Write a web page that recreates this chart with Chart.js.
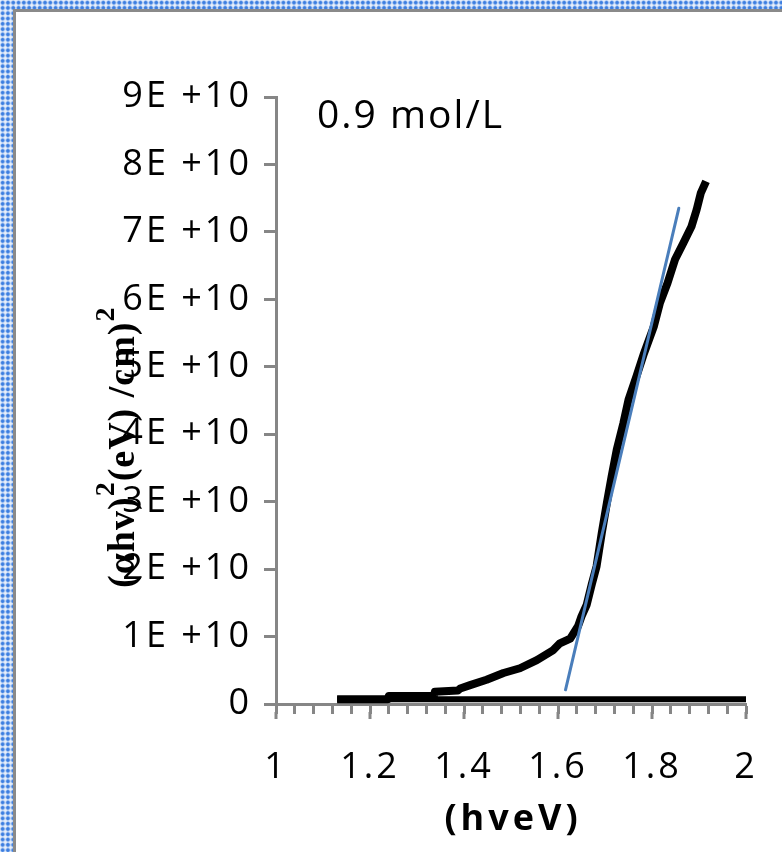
<!DOCTYPE html>
<html>
<head>
<meta charset="utf-8">
<title>Tauc plot 0.9 mol/L</title>
<script src="https://cdn.jsdelivr.net/npm/chart.js@4.4.0/dist/chart.umd.min.js"></script>
<style>
  html, body {
    margin: 0;
    width: 782px;
    height: 852px;
    overflow: hidden;
  }
  body {
    background-color: #e9f0fb;
    background-image: radial-gradient(circle, #3b7de0 0, #3b7de0 1.3px, #9dbff0 2px, transparent 2.7px);
    background-size: 5.3px 5.3px;
  }
  #frame {
    position: absolute;
    left: 13px;
    top: 9px;
    right: 0;
    bottom: 0;
    background: #fff;
    border-left: 3px solid #8a8a8a;
    border-top: 3px solid #8a8a8a;
  }
  #wrap {
    position: absolute;
    left: 0;
    top: 0;
    width: 782px;
    height: 852px;
  }
</style>
</head>
<body>
<div id="frame"></div>
<div id="wrap"><canvas id="tauc"></canvas></div>
<script>
// photon energy (eV) and (ahv)^2 values of the measured curve
const energy = [1.13, 1.238, 1.24, 1.336, 1.338, 1.387, 1.392, 1.413, 1.448, 1.484,
                1.519, 1.555, 1.59, 1.604, 1.626, 1.643, 1.65, 1.661, 1.672, 1.682,
                1.693, 1.704, 1.714, 1.725, 1.739, 1.75, 1.767, 1.783, 1.804, 1.817,
                1.833, 1.849, 1.867, 1.884, 1.895, 1.904, 1.915];
const absorption = [0.07e10, 0.07e10, 0.12e10, 0.12e10, 0.18e10, 0.20e10, 0.23e10, 0.28e10, 0.36e10, 0.46e10,
                    0.53e10, 0.65e10, 0.80e10, 0.90e10, 0.97e10, 1.16e10, 1.30e10, 1.47e10, 1.78e10, 2.04e10,
                    2.53e10, 2.98e10, 3.37e10, 3.77e10, 4.16e10, 4.51e10, 4.86e10, 5.20e10, 5.60e10, 5.95e10,
                    6.24e10, 6.59e10, 6.84e10, 7.08e10, 7.33e10, 7.58e10, 7.75e10];

// flat baseline under the curve
const baseX = [1.13, 2.0];
const baseY = [0.07e10, 0.07e10];

// linear fit used to read the band gap
const fitX = [1.616, 1.857];
const fitY = [0.21e10, 7.35e10];

const yTickLabels = ['0', '1E +10', '2E +10', '3E +10', '4E +10', '5E +10', '6E +10', '7E +10', '8E +10', '9E +10'];
const xTickLabels = ['1', '1.2', '1.4', '1.6', '1.8', '2'];
const xMajorValues = [1, 1.2, 1.4, 1.6, 1.8, 2];

const AXIS_GREY = '#868686';

function toPoints(xs, ys) {
  return xs.map((x, i) => ({ x: x, y: ys[i] }));
}

// wider spacing for the tick labels, longer marks at the labelled x ticks,
// plus the text that sits on the chart
const decorations = {
  id: 'decorations',
  beforeDraw(chart) {
    chart.ctx.letterSpacing = '3px';
  },
  afterDraw(chart) {
    const ctx = chart.ctx;
    const xs = chart.scales.x;
    const bottom = chart.chartArea.bottom;

    ctx.letterSpacing = '0px';
    ctx.save();
    ctx.strokeStyle = AXIS_GREY;
    ctx.lineWidth = 3;
    xMajorValues.forEach(v => {
      const px = Math.round(xs.getPixelForValue(v));
      ctx.beginPath();
      ctx.moveTo(px, bottom + 8);
      ctx.lineTo(px, bottom + 15);
      ctx.stroke();
    });

    ctx.fillStyle = '#000';
    ctx.textBaseline = 'alphabetic';

    // sample concentration
    ctx.font = '39px "Open Sans"';
    ctx.letterSpacing = '2px';
    ctx.textAlign = 'left';
    ctx.fillText('0.9 mol/L', 317, 128);

    // x title
    ctx.font = 'bold 36px "Open Sans"';
    ctx.letterSpacing = '4px';
    ctx.textAlign = 'center';
    ctx.fillText('(hveV)', 513, 830);

    // y title, rotated, with raised exponents
    ctx.letterSpacing = '1px';
    ctx.translate(134, 588);
    ctx.rotate(-Math.PI / 2);
    ctx.textAlign = 'left';
    const parts = [
      { t: '(\u03b1hv)', size: 38, rise: 0 },
      { t: '2', size: 28, rise: 20 },
      { t: '(eV) /cm)', size: 38, rise: 0 },
      { t: '2', size: 28, rise: 20 }
    ];
    let cx = 0;
    parts.forEach(p => {
      ctx.font = 'bold ' + p.size + 'px "Liberation Serif"';
      ctx.fillText(p.t, cx, -p.rise);
      cx += ctx.measureText(p.t).width;
    });
    ctx.restore();
  }
};

const ctx = document.getElementById('tauc').getContext('2d');
new Chart(ctx, {
  type: 'scatter',
  data: {
    datasets: [
      {
        label: 'fit',
        data: toPoints(fitX, fitY),
        showLine: true,
        borderColor: '#4a7ebb',
        borderWidth: 3,
        borderCapStyle: 'round',
        pointRadius: 0
      },
      {
        label: '0.9 mol/L',
        data: toPoints(energy, absorption),
        showLine: true,
        borderColor: '#000',
        borderWidth: 8,
        borderJoinStyle: 'round',
        pointRadius: 0
      },
      {
        label: 'base',
        data: toPoints(baseX, baseY),
        showLine: true,
        borderColor: '#000',
        borderWidth: 6,
        pointRadius: 0
      }
    ]
  },
  options: {
    responsive: true,
    maintainAspectRatio: false,
    animation: false,
    layout: {
      padding: { left: 0, top: 97, right: 36, bottom: 0 }
    },
    plugins: {
      legend: { display: false },
      tooltip: { enabled: false }
    },
    scales: {
      x: {
        type: 'linear',
        min: 1,
        max: 2,
        afterFit(scale) {
          scale.height = 148;
          scale.paddingLeft = 0;
          scale.paddingRight = 0;
        },
        border: { display: true, color: AXIS_GREY, width: 3 },
        grid: {
          drawOnChartArea: false,
          drawTicks: true,
          tickLength: 10,
          tickColor: AXIS_GREY,
          tickWidth: 3
        },
        ticks: {
          stepSize: 0.04,
          autoSkip: false,
          maxRotation: 0,
          padding: 32,
          color: '#000',
          font: { family: '"Open Sans"', size: 36 },
          callback: (value, index) => index % 5 === 0 ? xTickLabels[index / 5] : ''
        }
      },
      y: {
        type: 'linear',
        min: 0,
        max: 9e10,
        afterFit(scale) {
          scale.width = 276;
          scale.paddingTop = 0;
          scale.paddingBottom = 0;
        },
        border: { display: true, color: AXIS_GREY, width: 3 },
        grid: {
          drawOnChartArea: false,
          drawTicks: true,
          tickLength: 12,
          tickColor: AXIS_GREY,
          tickWidth: 3
        },
        ticks: {
          stepSize: 1e10,
          autoSkip: false,
          padding: 12,
          color: '#000',
          font: { family: '"Open Sans"', size: 36 },
          callback: (value, index) => yTickLabels[index]
        }
      }
    }
  },
  plugins: [decorations]
});
</script>
</body>
</html>
